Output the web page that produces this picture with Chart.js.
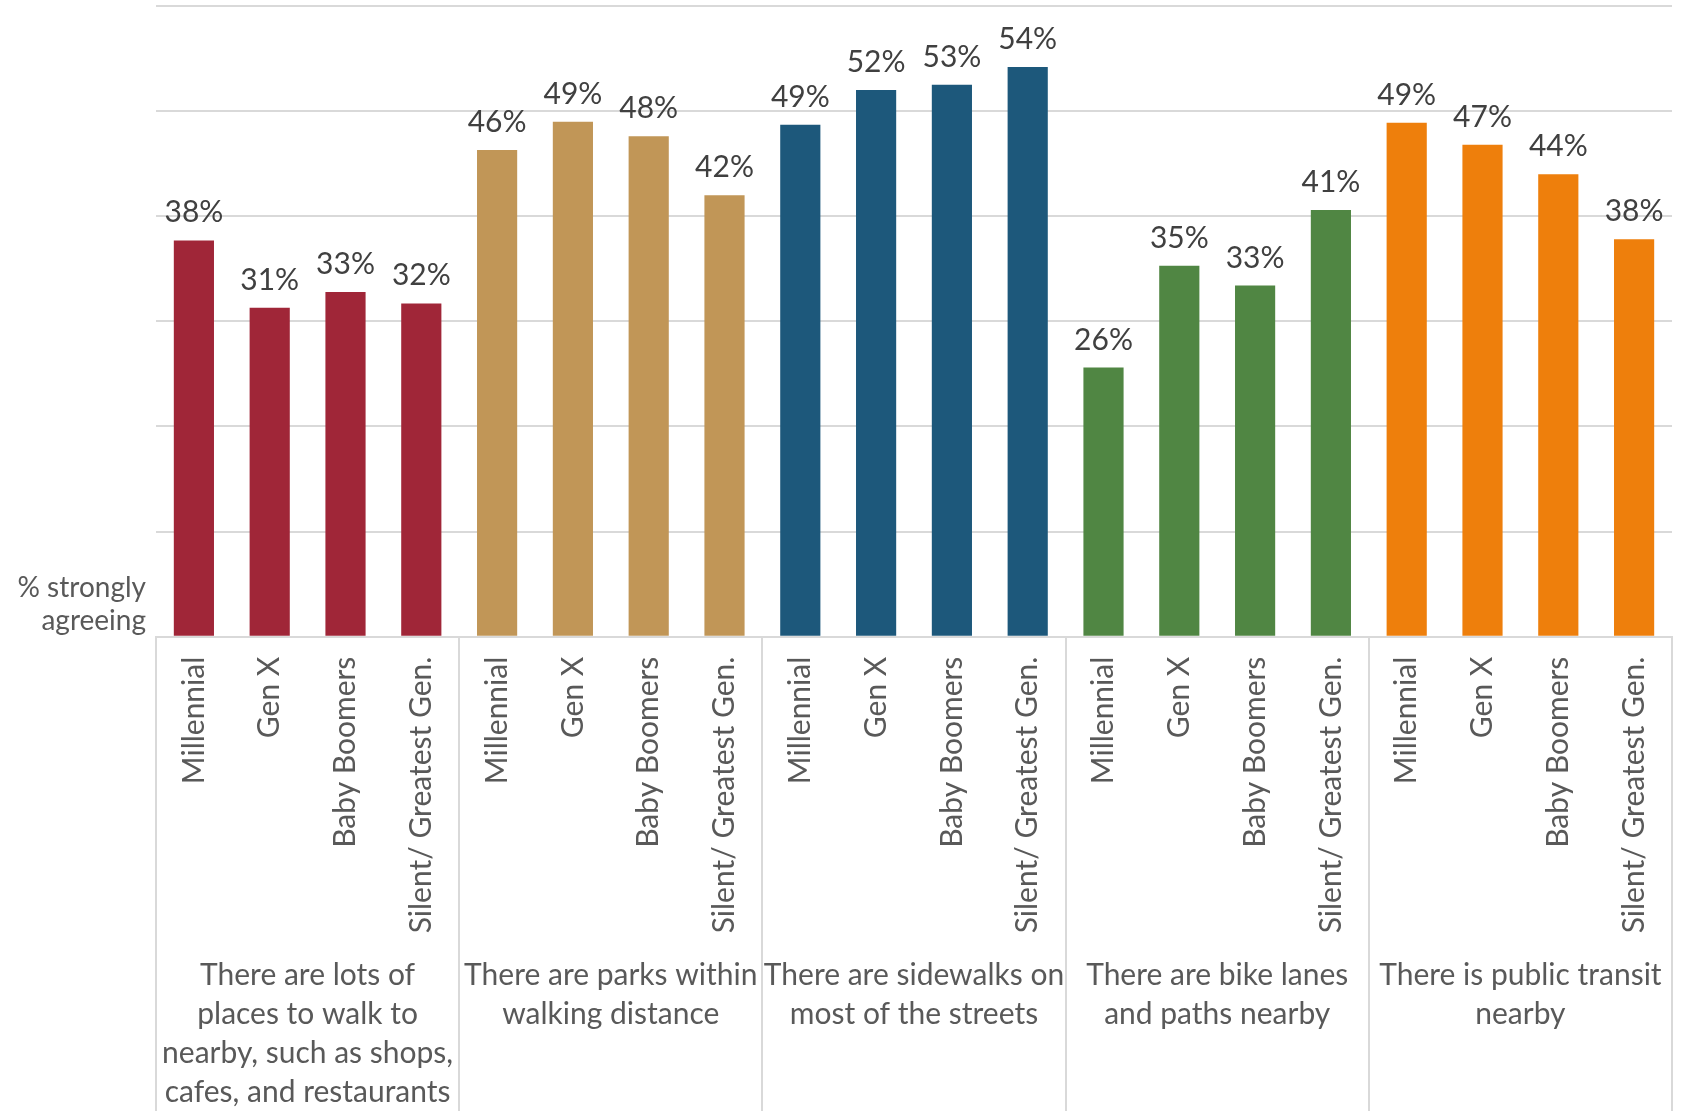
<!DOCTYPE html>
<html>
<head>
<meta charset="utf-8">
<script src="https://cdn.jsdelivr.net/npm/chart.js@4/dist/chart.umd.min.js"></script>
<style>
  body { margin: 0; background: #fff; }
  #wrap { position: relative; width: 1685px; height: 1111px; }
  #yTitle {
    position: absolute; right: calc(1685px - 146px); top: 570px;
    font: 28px Lato, sans-serif; color: #595959; text-align: right; line-height: 33px;
  }
</style>
</head>
<body>
<div id="wrap">
  <canvas id="chart"></canvas>
  <div id="yTitle">% strongly<br>agreeing</div>
</div>
<script>
// ========== DATA ==========
const groupLabels = [
  ["There are lots of", "places to walk to", "nearby, such as shops,", "cafes, and restaurants"],
  ["There are parks within", "walking distance"],
  ["There are sidewalks on", "most of the streets"],
  ["There are bike lanes", "and paths nearby"],
  ["There is public transit", "nearby"]
];
const generations = ["Millennial", "Gen X", "Baby Boomers", "Silent/ Greatest Gen."];

const placesValues = [37.7, 31.3, 32.8, 31.7];
const parksValues = [46.3, 49.0, 47.6, 42.0];
const sidewalksValues = [48.7, 52.0, 52.5, 54.2];
const bikeValues = [25.6, 35.3, 33.4, 40.6];
const transitValues = [48.9, 46.8, 44.0, 37.8];

const groupColors = ["#A02638", "#C19657", "#1D587B", "#508643", "#EE7F0C"];
const yTicks = [0, 10, 20, 30, 40, 50, 60];

// ========== BUILD SERIES ==========
const allGroups = [placesValues, parksValues, sidewalksValues, bikeValues, transitValues];
const labels = [];
const values = [];
const colors = [];
allGroups.forEach((grp, g) => {
  grp.forEach((v, i) => {
    labels.push(generations[i]);
    values.push(v);
    colors.push(groupColors[g]);
  });
});

const GRID = "#d9d9d9";
const FONT = "Lato, sans-serif";

// value labels above each bar
const barLabels = {
  id: "barLabels",
  afterDatasetsDraw(chart) {
    const ctx = chart.ctx;
    const meta = chart.getDatasetMeta(0);
    ctx.save();
    ctx.font = "30px " + FONT;
    ctx.fillStyle = "#404040";
    ctx.textAlign = "center";
    ctx.textBaseline = "alphabetic";
    meta.data.forEach((bar, i) => {
      ctx.fillText(Math.round(values[i]) + "%", bar.x, bar.y - 18);
    });
    ctx.restore();
  }
};

// vertical separators between the groups, below the plot
const groupLines = {
  id: "groupLines",
  afterDraw(chart) {
    const ctx = chart.ctx;
    const x = chart.scales.x;
    const per = generations.length;
    const half = (x.getPixelForValue(1) - x.getPixelForValue(0)) / 2;
    ctx.save();
    ctx.strokeStyle = GRID;
    ctx.lineWidth = 2;
    for (let g = 0; g <= allGroups.length; g++) {
      const idx = Math.min(g * per, labels.length - 1);
      const px = g * per < labels.length ? x.getPixelForValue(idx) - half : x.getPixelForValue(idx) + half;
      ctx.beginPath();
      ctx.moveTo(Math.round(px), chart.chartArea.bottom);
      ctx.lineTo(Math.round(px), chart.height);
      ctx.stroke();
    }
    ctx.restore();
  }
};

// keep the plot edges fixed, no extra padding for wide labels
function fixHeight(h) {
  return (s) => {
    s.height = h;
    s.paddingLeft = 0;
    s.paddingRight = 0;
  };
}

new Chart(document.getElementById("chart"), {
  type: "bar",
  data: {
    labels: labels,
    datasets: [{
      data: values,
      backgroundColor: colors,
      barPercentage: 0.53,
      categoryPercentage: 1
    }]
  },
  options: {
    responsive: true,
    maintainAspectRatio: false,
    animation: false,
    layout: { padding: { left: 156, right: 13, top: 6, bottom: 0 } },
    plugins: { legend: { display: false }, tooltip: { enabled: false } },
    scales: {
      y: {
        min: yTicks[0],
        max: yTicks[yTicks.length - 1],
        afterBuildTicks: (s) => { s.ticks = yTicks.map(v => ({ value: v })); },
        ticks: { display: false },
        border: { display: false },
        grid: { color: GRID, lineWidth: 2, drawTicks: false }
      },
      x: {
        grid: { display: false, drawTicks: false },
        border: { display: true, color: GRID, width: 2 },
        ticks: {
          autoSkip: false, minRotation: 90, maxRotation: 90, padding: 20,
          color: "#595959", font: { family: FONT, size: 30 }
        },
        afterFit: fixHeight(300)
      },
      x2: {
        type: "category",
        position: "bottom",
        labels: groupLabels,
        offset: true,
        grid: { display: false, drawTicks: false },
        border: { display: false },
        ticks: {
          autoSkip: false, maxRotation: 0, minRotation: 0, padding: 19,
          color: "#595959", font: { family: FONT, size: 30, lineHeight: 1.3 }
        },
        afterFit: fixHeight(174.3)
      }
    }
  },
  plugins: [barLabels, groupLines]
});
</script>
</body>
</html>
